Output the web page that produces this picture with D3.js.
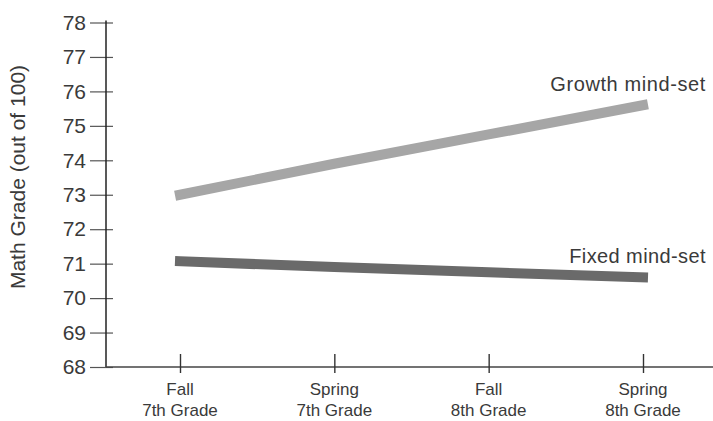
<!DOCTYPE html>
<html><head><meta charset="utf-8">
<script src="https://cdn.jsdelivr.net/npm/d3@7"></script>
<style>body{margin:0;background:#fff}</style>
</head><body>
<svg id="c" width="713" height="421"></svg>
<script>
const categories = [["Fall","7th Grade"],["Spring","7th Grade"],["Fall","8th Grade"],["Spring","8th Grade"]];
const growthValues = [73.0, 73.9, 74.75, 75.6];
const fixedValues = [71.07, 70.9, 70.75, 70.6];
const yTicks = [68,69,70,71,72,73,74,75,76,77,78];
const seriesNames = ["Growth mind-set","Fixed mind-set"];

const svg = d3.select("#c");
const font = "'Liberation Sans', Arial, sans-serif";
const x = d3.scalePoint().domain(d3.range(categories.length)).range([180, 643]);
const y = d3.scaleLinear().domain([68, 78]).range([367, 22.5]);
const axisX0 = 106;

// Y axis
const ya = svg.append("g").attr("transform", `translate(${axisX0},0)`)
  .call(d3.axisLeft(y).tickValues(yTicks).tickSize(16).tickPadding(4).tickFormat(d3.format("d")));
ya.select(".domain").remove();
ya.selectAll(".tick line").attr("x1", 7).attr("stroke", "#555").attr("stroke-width", 1.2);
ya.selectAll(".tick text").attr("font-family", font).attr("font-size", 21).attr("fill", "#3a3a3a");
svg.append("line").attr("x1", axisX0).attr("x2", axisX0).attr("y1", y(78) - 2).attr("y2", y(68))
  .attr("stroke", "#222").attr("stroke-width", 1.5);

// X axis
svg.append("line").attr("x1", axisX0).attr("x2", 713).attr("y1", y(68)).attr("y2", y(68))
  .attr("stroke", "#444").attr("stroke-width", 1.5);
const xa = svg.append("g").attr("transform", `translate(0,${y(68)})`)
  .call(d3.axisBottom(x).tickSize(6).tickFormat(""));
xa.select(".domain").remove();
xa.selectAll(".tick line").attr("y1", -13).attr("stroke", "#333").attr("stroke-width", 1.4);
const lbl = svg.append("g").selectAll("text").data(categories).join("text")
  .attr("x", (d, i) => x(i)).attr("text-anchor", "middle")
  .attr("font-family", font).attr("font-size", 17).attr("fill", "#3a3a3a");
lbl.append("tspan").attr("x", (d, i) => x(i)).attr("y", 395).text(d => d[0]);
lbl.append("tspan").attr("x", (d, i) => x(i)).attr("y", 416).text(d => d[1]);

// Y label
svg.append("text").attr("transform", "translate(25,177) rotate(-90)")
  .attr("text-anchor", "middle").attr("font-family", font).attr("font-size", 21)
  .attr("fill", "#3a3a3a").text("Math Grade (out of 100)");

// Lines
const line = d3.line().x((d, i) => x(i)).y(d => y(d));
svg.append("path").datum(growthValues).attr("d", line).attr("fill", "none")
  .attr("stroke", "#a6a6a6").attr("stroke-width", 10).attr("stroke-linecap", "square");
svg.append("path").datum(fixedValues).attr("d", line).attr("fill", "none")
  .attr("stroke", "#6a6a6a").attr("stroke-width", 10).attr("stroke-linecap", "square");

// Labels
svg.append("text").attr("x", 706).attr("y", 91).attr("text-anchor", "end")
  .attr("font-family", font).attr("font-size", 20).attr("letter-spacing", 0.6)
  .attr("fill", "#3a3a3a").text(seriesNames[0]);
svg.append("text").attr("x", 706).attr("y", 263).attr("text-anchor", "end")
  .attr("font-family", font).attr("font-size", 20).attr("letter-spacing", 0.4)
  .attr("fill", "#3a3a3a").text(seriesNames[1]);
</script>
</body></html>
